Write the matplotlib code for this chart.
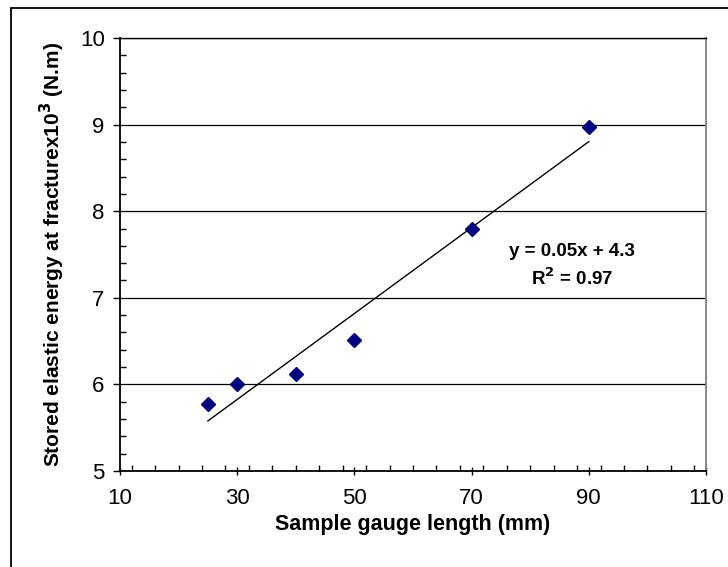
import numpy as np
import matplotlib
matplotlib.use("Agg")
import matplotlib.pyplot as plt
from matplotlib.ticker import MultipleLocator
from matplotlib.patches import Rectangle

# gauge length (mm) vs stored elastic energy
gauge_length = [25, 30, 40, 50, 70, 90]
stored_energy = [5.77, 6.00, 6.12, 6.51, 7.79, 8.97]

x_ticks = [10, 30, 50, 70, 90, 110]
y_ticks = [5, 6, 7, 8, 9, 10]

plt.rcParams['font.family'] = ['Liberation Sans', 'DejaVu Sans']

W, H = 728, 567
fig = plt.figure(figsize=(W / 100, H / 100), dpi=100)
ax = fig.add_axes([120 / W, (H - 471) / H, 586 / W, 433 / H])

# outer chart border (right/bottom edges fall off the picture)
fig.patches.append(Rectangle((11 / W, -0.05), 1.2, (H - 8) / H + 0.05,
                             transform=fig.transFigure, fill=False,
                             edgecolor='black', linewidth=1.3))

for yv in y_ticks[1:]:
    ax.axhline(yv, color='black', linewidth=0.9, zorder=1)

ax.plot(gauge_length, stored_energy, linestyle='none', marker='D',
        markersize=7.5, color='#000080', zorder=3)

# linear trend line
k, b = np.polyfit(gauge_length, stored_energy, 1)
xs = np.array([min(gauge_length), max(gauge_length)])
ax.plot(xs, k * xs + b, color='black', linewidth=1.0, zorder=2)

ax.text(87.2, 7.53, 'y = %.2fx + %.1f' % (k, b), ha='center', va='center',
        fontsize=13.5, fontweight='bold')
ax.text(87.2, 7.23, r'R$^\mathbf{2}$ = 0.97', ha='center', va='center',
        fontsize=13.5, fontweight='bold')

ax.set_xlim(10, 110)
ax.set_ylim(5, 10)
ax.set_xticks(x_ticks)
ax.set_yticks(y_ticks)
ax.xaxis.set_minor_locator(MultipleLocator(4))
ax.yaxis.set_minor_locator(MultipleLocator(0.2))

ax.tick_params(axis='x', which='major', direction='inout', length=6,
               width=1, labelsize=16, pad=9)
ax.tick_params(axis='x', which='minor', direction='in', length=4, width=1)
ax.tick_params(axis='y', which='major', direction='out', length=5,
               width=1, labelsize=16, pad=6)
ax.tick_params(axis='y', which='minor', direction='in', length=4, width=1)

ax.spines['top'].set_linewidth(1.0)
ax.spines['right'].set_color('#808080')
ax.spines['right'].set_linewidth(1.3)
ax.spines['left'].set_linewidth(1.3)
ax.spines['bottom'].set_linewidth(1.3)

ax.set_xlabel('Sample gauge length (mm)', fontsize=15.5, fontweight='bold',
              labelpad=4)
ax.set_ylabel(r'Stored elastic energy at fracturex10$^\mathbf{3}$ (N.m)',
              fontsize=15, fontweight='bold', labelpad=9)

fig.savefig('out.png', dpi=100)
